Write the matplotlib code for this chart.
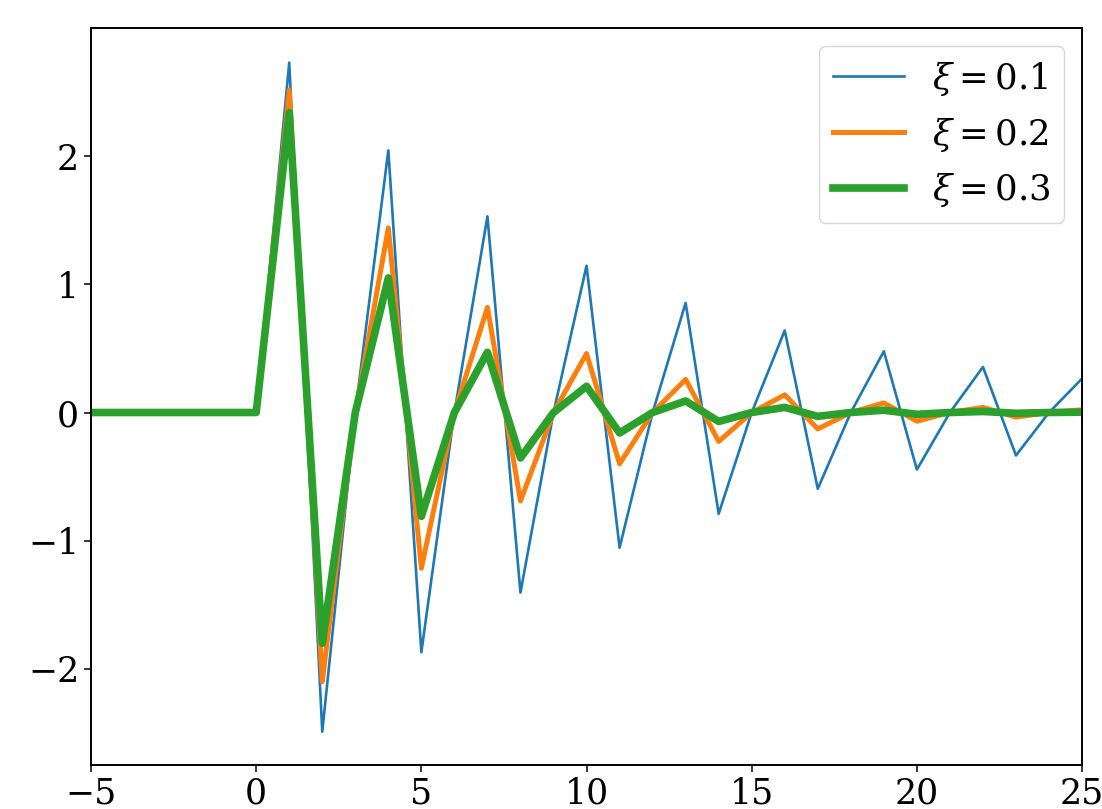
import numpy as np
import matplotlib
matplotlib.use("Agg")
import matplotlib.pyplot as plt

plt.rcParams["font.family"] = "DejaVu Serif"
plt.rcParams["mathtext.fontset"] = "dejavuserif"

# sample index n = -5 ... 25
n = np.arange(-5, 26)

# values (zero before n = 1)
xi_01 = [0, 0, 0, 0, 0, 0,
         2.73, -2.49, 0, 2.045, -1.87, 0, 1.53, -1.405, 0, 1.145, -1.055, 0,
         0.855, -0.79, 0, 0.64, -0.595, 0, 0.478, -0.445, 0, 0.355, -0.335, 0, 0.265]
xi_02 = [0, 0, 0, 0, 0, 0,
         2.515, -2.10, 0, 1.44, -1.215, 0, 0.82, -0.69, 0, 0.46, -0.40, 0,
         0.258, -0.226, 0, 0.138, -0.128, 0, 0.075, -0.068, 0, 0.04, -0.036, 0, 0.021]
xi_03 = [0, 0, 0, 0, 0, 0,
         2.34, -1.80, 0, 1.05, -0.81, 0, 0.47, -0.355, 0, 0.205, -0.16, 0,
         0.09, -0.07, 0, 0.04, -0.03, 0, 0.018, -0.014, 0, 0.008, -0.006, 0, 0.003]

labels = [r"$\xi = 0.1$", r"$\xi = 0.2$", r"$\xi = 0.3$"]

fig = plt.figure(figsize=(11.02, 8.09), dpi=100)
ax = fig.add_axes([0.0826, 0.0544, 0.8993, 0.911])

ax.plot(n, xi_01, color="tab:blue", lw=1.9, label=labels[0])
ax.plot(n, xi_02, color="tab:orange", lw=3.6, label=labels[1])
ax.plot(n, xi_03, color="tab:green", lw=5.5, label=labels[2])

ax.set_xlim(-5, 25)
ax.set_ylim(-2.75, 3.0)
ax.set_yticks([-2, -1, 0, 1, 2])
ax.set_xticks([-5, 0, 5, 10, 15, 20, 25])
ax.tick_params(labelsize=25, length=5, width=1.1)
for s in ax.spines.values():
    s.set_linewidth(1.4)

ax.legend(loc="upper right", fontsize=25.5, handlelength=2.0)

fig.savefig("out.png", dpi=100)
